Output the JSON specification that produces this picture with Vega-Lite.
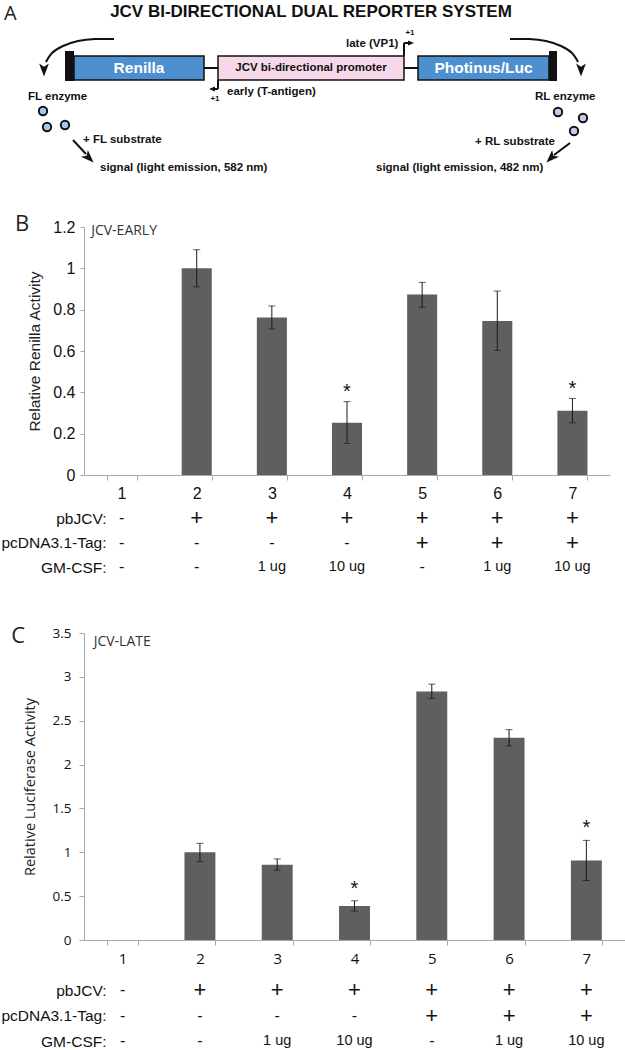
{
  "$schema": "https://vega.github.io/schema/vega-lite/v6.json",
  "padding": 0,
  "background": "white",
  "bounds": "flush",
  "spacing": 0,
  "config": {
    "view": {"stroke": null},
    "axis": {"grid": false},
    "text": {"font": "Liberation Sans"}
  },
  "datasets": {
    "early": [
      {"lane": "1", "value": 0, "lo": null, "hi": null, "sig": ""},
      {"lane": "2", "value": 1.0, "lo": 0.91, "hi": 1.09, "sig": ""},
      {"lane": "3", "value": 0.762, "lo": 0.707, "hi": 0.818, "sig": ""},
      {"lane": "4", "value": 0.253, "lo": 0.153, "hi": 0.355, "sig": "*"},
      {"lane": "5", "value": 0.873, "lo": 0.812, "hi": 0.932, "sig": ""},
      {"lane": "6", "value": 0.745, "lo": 0.603, "hi": 0.89, "sig": ""},
      {"lane": "7", "value": 0.311, "lo": 0.252, "hi": 0.37, "sig": "*"}
    ],
    "late": [
      {"lane": "1", "value": 0, "lo": null, "hi": null, "sig": ""},
      {"lane": "2", "value": 1.0, "lo": 0.895, "hi": 1.102, "sig": ""},
      {"lane": "3", "value": 0.858, "lo": 0.795, "hi": 0.924, "sig": ""},
      {"lane": "4", "value": 0.387, "lo": 0.33, "hi": 0.447, "sig": "*"},
      {"lane": "5", "value": 2.833, "lo": 2.754, "hi": 2.917, "sig": ""},
      {"lane": "6", "value": 2.307, "lo": 2.212, "hi": 2.398, "sig": ""},
      {"lane": "7", "value": 0.905, "lo": 0.678, "hi": 1.136, "sig": "*"}
    ],
    "table": [
      {"factor": "pbJCV", "lane": "1", "mark": "-"},
      {"factor": "pbJCV", "lane": "2", "mark": "+"},
      {"factor": "pbJCV", "lane": "3", "mark": "+"},
      {"factor": "pbJCV", "lane": "4", "mark": "+"},
      {"factor": "pbJCV", "lane": "5", "mark": "+"},
      {"factor": "pbJCV", "lane": "6", "mark": "+"},
      {"factor": "pbJCV", "lane": "7", "mark": "+"},
      {"factor": "pcDNA3.1-Tag", "lane": "1", "mark": "-"},
      {"factor": "pcDNA3.1-Tag", "lane": "2", "mark": "-"},
      {"factor": "pcDNA3.1-Tag", "lane": "3", "mark": "-"},
      {"factor": "pcDNA3.1-Tag", "lane": "4", "mark": "-"},
      {"factor": "pcDNA3.1-Tag", "lane": "5", "mark": "+"},
      {"factor": "pcDNA3.1-Tag", "lane": "6", "mark": "+"},
      {"factor": "pcDNA3.1-Tag", "lane": "7", "mark": "+"},
      {"factor": "GM-CSF", "lane": "1", "mark": "-"},
      {"factor": "GM-CSF", "lane": "2", "mark": "-"},
      {"factor": "GM-CSF", "lane": "3", "mark": "1 ug"},
      {"factor": "GM-CSF", "lane": "4", "mark": "10 ug"},
      {"factor": "GM-CSF", "lane": "5", "mark": "-"},
      {"factor": "GM-CSF", "lane": "6", "mark": "1 ug"},
      {"factor": "GM-CSF", "lane": "7", "mark": "10 ug"}
    ]
  },
  "vconcat": [
    {
      "width": 541,
      "height": 227,
      "encoding": {
        "x": {"field": "x", "type": "quantitative", "scale": {"domain": [13.44, 100], "zero": false, "nice": false}, "axis": null},
        "y": {"field": "y", "type": "quantitative", "scale": {"domain": [0, 36.32], "zero": false, "nice": false, "reverse": true}, "axis": null}
      },
      "layer": [
        {
          "data": {"values": [
            {"arrow": "left", "i": 0, "x": 18.24, "y": 6.24},
            {"arrow": "left", "i": 1, "x": 15.2, "y": 6.24},
            {"arrow": "left", "i": 2, "x": 12.48, "y": 6.56},
            {"arrow": "left", "i": 3, "x": 10.08, "y": 7.36},
            {"arrow": "left", "i": 4, "x": 8.32, "y": 8.48},
            {"arrow": "left", "i": 5, "x": 7.36, "y": 9.92},
            {"arrow": "right", "i": 0, "x": 81.6, "y": 6.24},
            {"arrow": "right", "i": 1, "x": 84.64, "y": 6.24},
            {"arrow": "right", "i": 2, "x": 87.36, "y": 6.56},
            {"arrow": "right", "i": 3, "x": 89.76, "y": 7.36},
            {"arrow": "right", "i": 4, "x": 91.52, "y": 8.48},
            {"arrow": "right", "i": 5, "x": 92.48, "y": 9.92}
          ]},
          "mark": {"type": "line", "interpolate": "natural", "stroke": "#111", "strokeWidth": 2},
          "encoding": {"detail": {"field": "arrow"}, "order": {"field": "i", "type": "quantitative"}}
        },
        {
          "data": {"values": [
            {"x": 32.64, "y": 10.88, "x2": 34.88, "y2": 10.88},
            {"x": 64.64, "y": 10.88, "x2": 66.88, "y2": 10.88},
            {"x": 64.64, "y": 8.96, "x2": 64.64, "y2": 6.88},
            {"x": 64.64, "y": 6.88, "x2": 65.44, "y2": 6.88},
            {"x": 34.88, "y": 12.8, "x2": 34.88, "y2": 14.24},
            {"x": 34.88, "y": 14.24, "x2": 34.24, "y2": 14.24},
            {"x": 11.68, "y": 22.4, "x2": 13.76, "y2": 24.64},
            {"x": 91.2, "y": 22.88, "x2": 88.64, "y2": 24.8}
          ]},
          "mark": {"type": "rule", "color": "#111", "strokeWidth": 2},
          "encoding": {"x2": {"field": "x2"}, "y2": {"field": "y2"}}
        },
        {
          "data": {"values": [
            {"x": 10.4, "y": 8.16, "x2": 11.84, "y2": 12.96},
            {"x": 87.84, "y": 8.16, "x2": 89.12, "y2": 12.96}
          ]},
          "mark": {"type": "rect", "color": "#111"},
          "encoding": {"x2": {"field": "x2"}, "y2": {"field": "y2"}}
        },
        {
          "data": {"values": [
            {"x": 11.84, "y": 8.96, "x2": 32.64, "y2": 12.8},
            {"x": 66.88, "y": 8.96, "x2": 87.84, "y2": 12.8}
          ]},
          "mark": {"type": "rect", "fill": "#4e8fd0", "stroke": "#111", "strokeWidth": 1.5},
          "encoding": {"x2": {"field": "x2"}, "y2": {"field": "y2"}}
        },
        {
          "data": {"values": [
            {"x": 34.88, "y": 8.96, "x2": 64.64, "y2": 12.8}
          ]},
          "mark": {"type": "rect", "fill": "#f6d8e8", "stroke": "#111", "strokeWidth": 1.5},
          "encoding": {"x2": {"field": "x2"}, "y2": {"field": "y2"}}
        },
        {
          "data": {"values": [
            {"x": 6.88, "y": 17.76}, {"x": 7.52, "y": 20.32}, {"x": 10.4, "y": 20.0}
          ]},
          "mark": {"type": "point", "shape": "circle", "filled": true, "fill": "#a8c8ea", "stroke": "#111", "strokeWidth": 2, "size": 70, "opacity": 1},
          "encoding": {}
        },
        {
          "data": {"values": [
            {"x": 89.28, "y": 17.92}, {"x": 93.28, "y": 18.88}, {"x": 91.84, "y": 20.96}
          ]},
          "mark": {"type": "point", "shape": "circle", "filled": true, "fill": "#cbc6ea", "stroke": "#111", "strokeWidth": 2, "size": 70, "opacity": 1},
          "encoding": {}
        },
        {
          "data": {"values": [
            {"x": 7.04, "y": 11.2, "heading": 180},
            {"x": 92.96, "y": 11.2, "heading": 180},
            {"x": 14.24, "y": 25.28, "heading": 135},
            {"x": 88.16, "y": 25.28, "heading": 225}
          ]},
          "mark": {"type": "point", "shape": "M0,-1L0.75,1L0,0.5L-0.75,1Z", "filled": true, "color": "#111", "size": 169, "opacity": 1},
          "encoding": {"angle": {"field": "heading", "type": "quantitative", "scale": null}}
        },
        {
          "data": {"values": [
            {"x": 65.76, "y": 6.88, "heading": 90},
            {"x": 33.92, "y": 14.24, "heading": 270}
          ]},
          "mark": {"type": "point", "shape": "M0,-1L0.8,1L-0.8,1Z", "filled": true, "color": "#111", "size": 36, "opacity": 1},
          "encoding": {"angle": {"field": "heading", "type": "quantitative", "scale": null}}
        },
        {
          "data": {"values": [{"x": 49.76, "y": 1.92, "t": "JCV BI-DIRECTIONAL DUAL REPORTER SYSTEM"}]},
          "mark": {"type": "text", "font": "Liberation Sans", "fontWeight": "bold", "fontSize": 17, "align": "center", "baseline": "middle", "color": "#111"},
          "encoding": {"text": {"field": "t"}}
        },
        {
          "data": {"values": [{"x": 0.64, "y": 2.24, "t": "A"}]},
          "mark": {"type": "text", "font": "Open Sans", "fontSize": 20, "align": "left", "baseline": "middle", "color": "#222"},
          "encoding": {"text": {"field": "t"}}
        },
        {
          "data": {"values": [
            {"x": 22.24, "y": 10.88, "t": "Renilla"},
            {"x": 77.36, "y": 10.88, "t": "Photinus/Luc"}
          ]},
          "mark": {"type": "text", "font": "Liberation Sans", "fontWeight": "bold", "fontSize": 15.5, "align": "center", "baseline": "middle", "color": "white"},
          "encoding": {"text": {"field": "t"}}
        },
        {
          "data": {"values": [{"x": 49.76, "y": 10.88, "t": "JCV bi-directional promoter"}]},
          "mark": {"type": "text", "font": "Liberation Sans", "fontWeight": "bold", "fontSize": 11.5, "align": "center", "baseline": "middle", "color": "#111"},
          "encoding": {"text": {"field": "t"}}
        },
        {
          "data": {"values": [
            {"x": 55.36, "y": 7.04, "t": "late (VP1)"},
            {"x": 36.32, "y": 14.72, "t": "early (T-antigen)"},
            {"x": 4.48, "y": 15.52, "t": "FL enzyme"},
            {"x": 13.28, "y": 22.4, "t": "+ FL substrate"},
            {"x": 16.0, "y": 26.88, "t": "signal (light emission, 582 nm)"},
            {"x": 85.6, "y": 15.52, "t": "RL enzyme"},
            {"x": 76.0, "y": 22.72, "t": "+ RL substrate"},
            {"x": 60.16, "y": 26.88, "t": "signal (light emission, 482 nm)"}
          ]},
          "mark": {"type": "text", "font": "Liberation Sans", "fontWeight": "bold", "fontSize": 11.5, "align": "left", "baseline": "middle", "color": "#111"},
          "encoding": {"text": {"field": "t"}}
        },
        {
          "data": {"values": [
            {"x": 65.6, "y": 5.28, "t": "+1"},
            {"x": 34.4, "y": 15.84, "t": "+1"}
          ]},
          "mark": {"type": "text", "font": "Liberation Sans", "fontWeight": "bold", "fontSize": 8, "align": "center", "baseline": "middle", "color": "#111"},
          "encoding": {"text": {"field": "t"}}
        }
      ]
    },
    {
      "width": 526,
      "height": 248,
      "data": {"name": "early"},
      "layer": [
        {
          "mark": {"type": "bar", "color": "#5f5f5f"},
          "encoding": {
            "x": {"field": "lane", "type": "ordinal", "title": null, "scale": {"domain": ["1", "2", "3", "4", "5", "6", "7"], "paddingInner": 0.6, "paddingOuter": 0.3},
              "axis": {"title": null, "labelAngle": 0, "labelFont": "Liberation Sans", "labelFontSize": 16, "labelColor": "#111", "domainColor": "#a8a8a8", "tickColor": "#a8a8a8", "tickSize": 5, "tickBand": "extent", "labelPadding": 5}},
            "y": {"field": "value", "type": "quantitative", "title": "Relative Renilla Activity", "scale": {"domain": [0, 1.2], "nice": false},
              "axis": {"title": "Relative Renilla Activity", "values": [0, 0.2, 0.4, 0.6, 0.8, 1, 1.2], "format": "~g", "labelFont": "Liberation Sans", "labelFontSize": 16, "labelColor": "#111", "domainColor": "#a8a8a8", "tickColor": "#a8a8a8", "tickSize": 4, "labelPadding": 5, "titleFont": "Liberation Sans", "titleFontSize": 15.5, "titleFontWeight": "normal", "titleColor": "#222", "titlePadding": 10}}
          }
        },
        {
          "transform": [{"filter": "datum.lo != null"}],
          "mark": {"type": "errorbar", "ticks": {"size": 7, "color": "#1a1a1a"}, "rule": {"color": "#1a1a1a", "strokeWidth": 1}},
          "encoding": {
            "x": {"field": "lane", "type": "ordinal", "title": null},
            "y": {"field": "lo", "type": "quantitative", "title": "Relative Renilla Activity"},
            "y2": {"field": "hi"}
          }
        },
        {
          "transform": [{"filter": "datum.sig === '*'"}],
          "mark": {"type": "text", "font": "Liberation Sans", "fontSize": 20, "baseline": "bottom", "align": "center", "color": "#111"},
          "encoding": {
            "x": {"field": "lane", "type": "ordinal", "title": null},
            "y": {"field": "hi", "type": "quantitative", "title": "Relative Renilla Activity"},
            "text": {"field": "sig"}
          }
        },
        {
          "data": {"values": [{"label": "JCV-EARLY"}]},
          "mark": {"type": "text", "font": "Open Sans", "fontSize": 14, "align": "left", "baseline": "middle", "dx": -30.4, "dy": 4, "color": "#333"},
          "encoding": {
            "x": {"datum": "1", "type": "ordinal"},
            "y": {"datum": 1.2, "type": "quantitative"},
            "text": {"field": "label"}
          }
        },
        {
          "data": {"values": [{"label": "B"}]},
          "mark": {"type": "text", "font": "Open Sans", "fontSize": 22, "align": "center", "baseline": "middle", "dx": -99.4, "dy": -3, "color": "#222"},
          "encoding": {
            "x": {"datum": "1", "type": "ordinal"},
            "y": {"datum": 1.2, "type": "quantitative"},
            "text": {"field": "label"}
          }
        }
      ]
    },
    {
      "width": 526,
      "height": 158,
      "data": {"name": "table"},
      "mark": {"type": "text", "font": "Liberation Sans", "color": "#111", "baseline": "middle", "align": "center"},
      "encoding": {
        "x": {"field": "lane", "type": "ordinal", "scale": {"type": "point", "padding": 0.5, "domain": ["1", "2", "3", "4", "5", "6", "7"]}, "axis": null},
        "y": {"field": "factor", "type": "nominal", "sort": ["pbJCV", "pcDNA3.1-Tag", "GM-CSF"], "scale": {"type": "point", "padding": 0, "range": [43, 92]},
          "axis": {"title": null, "domain": false, "ticks": false, "tickSize": 0, "labelPadding": -22, "labelFont": "Liberation Sans", "labelFontSize": 15.5, "labelColor": "#111", "labelBaseline": "middle", "labelExpr": "datum.label + ':'"}},
        "text": {"field": "mark"},
        "size": {"condition": [{"test": "datum.mark === '+'", "value": 22}, {"test": "datum.mark !== '-'", "value": 14.5}], "value": 16}
      }
    },
    {
      "width": 541,
      "height": 307,
      "data": {"name": "late"},
      "layer": [
        {
          "mark": {"type": "bar", "color": "#5f5f5f"},
          "encoding": {
            "x": {"field": "lane", "type": "ordinal", "title": null, "scale": {"domain": ["1", "2", "3", "4", "5", "6", "7"], "paddingInner": 0.6, "paddingOuter": 0.3},
              "axis": {"title": null, "labelAngle": 0, "labelFont": "Open Sans", "labelFontSize": 15, "labelColor": "#111", "domainColor": "#a8a8a8", "tickColor": "#a8a8a8", "tickSize": 5, "tickBand": "extent", "labelPadding": 6}},
            "y": {"field": "value", "type": "quantitative", "title": "Relative Luciferase Activity", "scale": {"domain": [0, 3.5], "nice": false},
              "axis": {"title": "Relative Luciferase Activity", "values": [0, 0.5, 1, 1.5, 2, 2.5, 3, 3.5], "format": "~g", "labelFont": "Open Sans", "labelFontSize": 13.5, "labelColor": "#111", "domainColor": "#a8a8a8", "tickColor": "#a8a8a8", "tickSize": 5, "labelPadding": 8, "titleFont": "Open Sans", "titleFontSize": 14.5, "titleFontWeight": "normal", "titleColor": "#222", "titlePadding": 15}}
          }
        },
        {
          "transform": [{"filter": "datum.lo != null"}],
          "mark": {"type": "errorbar", "ticks": {"size": 7, "color": "#1a1a1a"}, "rule": {"color": "#1a1a1a", "strokeWidth": 1}},
          "encoding": {
            "x": {"field": "lane", "type": "ordinal", "title": null},
            "y": {"field": "lo", "type": "quantitative", "title": "Relative Luciferase Activity"},
            "y2": {"field": "hi"}
          }
        },
        {
          "transform": [{"filter": "datum.sig === '*'"}],
          "mark": {"type": "text", "font": "Liberation Sans", "fontSize": 20, "baseline": "bottom", "align": "center", "dy": -2, "color": "#111"},
          "encoding": {
            "x": {"field": "lane", "type": "ordinal", "title": null},
            "y": {"field": "hi", "type": "quantitative", "title": "Relative Luciferase Activity"},
            "text": {"field": "sig"}
          }
        },
        {
          "data": {"values": [{"label": "JCV-LATE"}]},
          "mark": {"type": "text", "font": "Open Sans", "fontSize": 14, "align": "left", "baseline": "middle", "dx": -29, "dy": 9, "color": "#333"},
          "encoding": {
            "x": {"datum": "1", "type": "ordinal"},
            "y": {"datum": 3.5, "type": "quantitative"},
            "text": {"field": "label"}
          }
        },
        {
          "data": {"values": [{"label": "C"}]},
          "mark": {"type": "text", "font": "Open Sans", "fontSize": 22, "align": "center", "baseline": "middle", "dx": -104.5, "dy": 3, "color": "#222"},
          "encoding": {
            "x": {"datum": "1", "type": "ordinal"},
            "y": {"datum": 3.5, "type": "quantitative"},
            "text": {"field": "label"}
          }
        }
      ]
    },
    {
      "width": 541,
      "height": 110,
      "data": {"name": "table"},
      "mark": {"type": "text", "font": "Liberation Sans", "color": "#111", "baseline": "middle", "align": "center"},
      "encoding": {
        "x": {"field": "lane", "type": "ordinal", "scale": {"type": "point", "padding": 0.5, "domain": ["1", "2", "3", "4", "5", "6", "7"]}, "axis": null},
        "y": {"field": "factor", "type": "nominal", "sort": ["pbJCV", "pcDNA3.1-Tag", "GM-CSF"], "scale": {"type": "point", "padding": 0, "range": [50, 101]},
          "axis": {"title": null, "domain": false, "ticks": false, "tickSize": 0, "labelPadding": -22, "labelFont": "Liberation Sans", "labelFontSize": 15.5, "labelColor": "#111", "labelBaseline": "middle", "labelExpr": "datum.label + ':'"}},
        "text": {"field": "mark"},
        "size": {"condition": [{"test": "datum.mark === '+'", "value": 22}, {"test": "datum.mark !== '-'", "value": 14.5}], "value": 16}
      }
    }
  ]
}
